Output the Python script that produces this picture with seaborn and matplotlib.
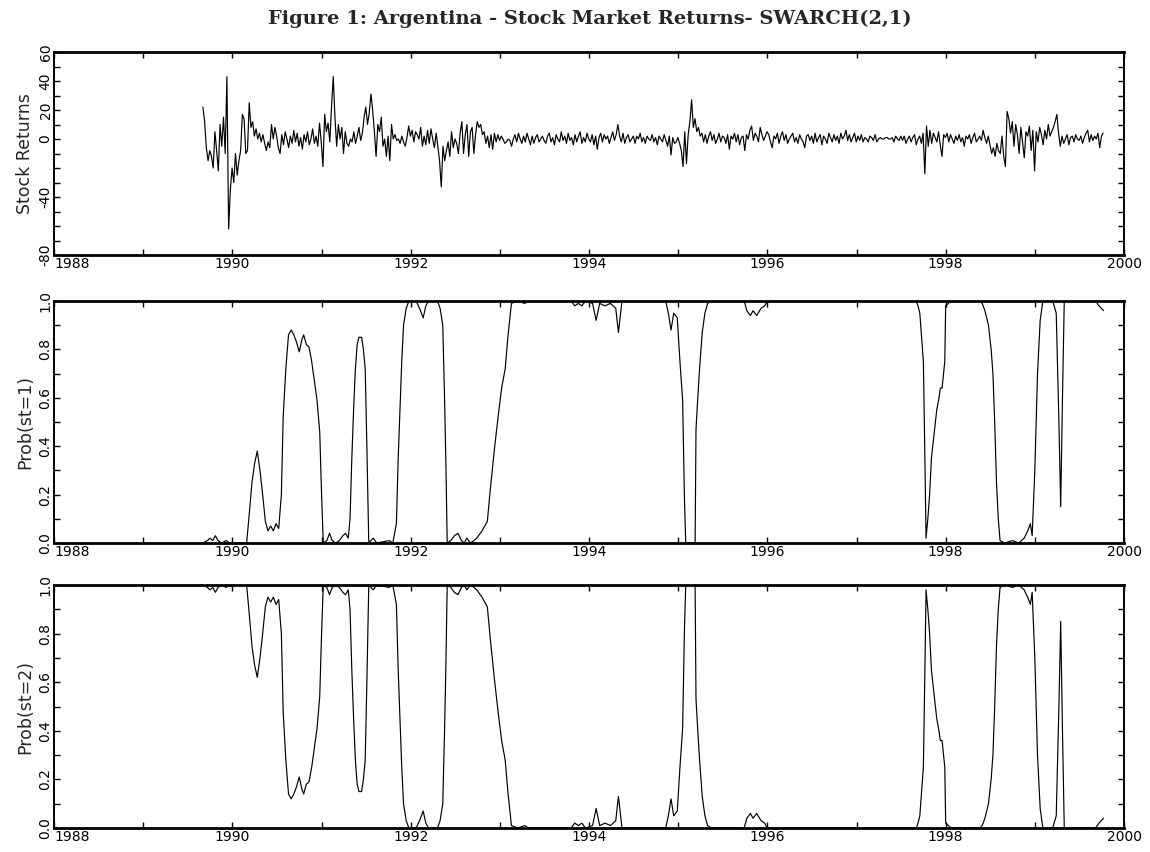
import numpy as np
import pandas as pd
import matplotlib
matplotlib.use("Agg")
import matplotlib.pyplot as plt
import seaborn as sns
from matplotlib.ticker import FixedLocator, MultipleLocator

sns.set_theme(style="ticks")
plt.rcParams['font.family'] = ['DejaVu Sans']

# ---------------- data ----------------
title = "Figure 1: Argentina - Stock Market Returns- SWARCH(2,1)"
ret_start = 1989.67          # first weekly observation (decimal year)
ret_1989 = [22, 12, -6, -15, -8, -12, -20, 5, -8, -22, 10, -5, 15, -10, 43, -62, -35, -20]
ret_1990 = [-30, -10, -25, -15, -8, 17, 14, -10, -8, 25, 8, 12, 2, 7, 0, 4, -2, 3, -3, -8, -2, -6, 10, 0, 8, 2,
            -6, -10, 3, -4, 5, 0, -6, 2, -3, 6, -2, 4, -5, 1, -7, 3, -2, 5, -4, 0, 7, -3, 2, -5, 11, -2]
ret_1991 = [-19, 17, 5, 11, -2, 22, 43, 15, -5, 10, 0, 8, -10, 5, -3, -5, 0, -2, 5, -3, 2, 8, -1, 4, 15, 22,
            10, 18, 31, 20, 5, -12, 10, 5, 15, -5, 0, -12, 2, -15, 10, 0, 3, -1, 0, -3, 2, -2, -5, 1, 9, 2]
ret_1992 = [6, -2, 5, 3, 0, 8, -5, 2, -4, 6, -3, 7, 0, -6, 4, -5, -15, -33, -5, -15, -8, -2, -12, 5, -6, 0,
            -3, -10, 4, 12, -10, 3, 10, -12, 5, 8, -10, 3, 12, 8, 10, 3, 5, -3, 2, -6, 3, -7, 4, -2, 3, -1]
ret_1993 = [2, 0, -3, -2, 0, -1, -5, 0, 3, -2, 4, 0, -3, 2, -2, 4, 0, -4, 2, -3, 1, 3, -2, 0, 2, -1,
            -3, 2, 4, -2, 1, -4, 3, 0, -2, 5, -1, 2, -3, 4, -1, 1, -4, 3, -2, 2, 5, -3, 1, -2, 4, 0]
ret_1994 = [-2, 3, -4, 2, -7, 1, 4, -2, 3, 0, 2, -3, 1, 5, -1, 3, 10, 2, -2, 4, -3, 1, 3, -2, 0, 2,
            -3, 2, 0, 4, -2, 1, -3, 2, 0, -1, 3, -2, 1, -4, 2, 0, -2, 3, -1, -5, 2, -11, 1, -3, -2, 1]
ret_1995 = [-3, -8, -19, 5, -17, 3, 12, 27, 8, 14, 5, 8, 2, 4, -2, 3, -3, 2, 5, -1, 3, -3, 0, 4, -2, 2,
            1, -3, 3, -7, 2, 0, 4, -2, 3, -4, 1, 2, -8, 3, 0, 6, 9, -1, 4, 2, -2, 8, 3, -1, 2, 5]
ret_1996 = [3, -2, -6, 2, 0, 4, -3, 2, 5, -1, 3, -3, 0, 2, 4, -2, 1, -3, 3, 0, -2, -6, 2, 3, -1, 2,
            -3, 4, -2, 1, 3, -4, 2, 0, -3, 4, 1, -2, 3, -1, 2, -3, 4, 0, 2, 6, -1, 3, -2, 1, 4, -2]
ret_1997 = [2, -1, 3, -2, 1, 0, -2, 2, 1, -1, 3, -2, 0, 1, 0, 0, 1, 1, 0, 0, 1, -2, 2, 0, -1, 2,
            -1, 2, -3, 0, 2, -2, 1, 3, -4, 0, 2, -3, 4, -24, 9, -5, 6, -3, 4, 1, -2, 5, -4, -12, 3, 1]
ret_1998 = [4, -2, 3, 0, -3, 2, -1, 3, -2, 1, -5, 2, 0, 3, -3, 1, 4, -2, 0, 2, -1, 6, 1, -3, 2, -4,
            -10, -6, -12, -3, -8, -10, 2, -12, -19, 19, 14, 4, 12, -5, 10, 3, -10, 8, -2, -13, 5, 2, 9, -8, 6, -22]
ret_1999 = [5, -2, 8, 3, -4, 6, 0, 10, 2, 5, 8, 12, 17, 4, -5, 2, -3, 0, 3, -4, 1, 2, -2, 3, 0, -1,
            2, -3, 1, 4, 6, -2, 3, -1, 2, 0, 4, -6, 2, 4]

prob_years = [1989.67, 1989.72, 1989.75, 1989.78, 1989.81, 1989.84, 1989.88, 1989.93, 1989.97, 1990.16,
              1990.19, 1990.22, 1990.25, 1990.28, 1990.31, 1990.34, 1990.37, 1990.40, 1990.43, 1990.46,
              1990.49, 1990.52, 1990.55, 1990.57, 1990.60, 1990.63, 1990.66, 1990.69, 1990.72, 1990.75,
              1990.78, 1990.80, 1990.83, 1990.86, 1990.89, 1990.92, 1990.95, 1990.98, 1991.00, 1991.02,
              1991.06, 1991.09, 1991.12, 1991.16, 1991.20, 1991.24, 1991.27, 1991.30, 1991.32, 1991.34,
              1991.36, 1991.38, 1991.40, 1991.42, 1991.45, 1991.47, 1991.49, 1991.51, 1991.53, 1991.58,
              1991.62, 1991.76, 1991.80, 1991.84, 1991.86, 1991.88, 1991.90, 1991.92, 1991.95, 1991.98,
              1992.06, 1992.10, 1992.14, 1992.17, 1992.20, 1992.30, 1992.33, 1992.36, 1992.38, 1992.395,
              1992.41, 1992.45, 1992.49, 1992.53, 1992.57, 1992.60, 1992.63, 1992.67, 1992.71, 1992.74,
              1992.80, 1992.86, 1992.89, 1992.94, 1992.98, 1993.02, 1993.06, 1993.09, 1993.13, 1993.20,
              1993.28, 1993.32, 1993.80, 1993.84, 1993.88, 1993.92, 1993.96, 1994.04, 1994.08, 1994.12,
              1994.18, 1994.24, 1994.30, 1994.33, 1994.37, 1994.86, 1994.89, 1994.92, 1994.95, 1994.99,
              1995.02, 1995.05, 1995.07, 1995.085, 1995.19, 1995.20, 1995.22, 1995.24, 1995.27, 1995.30,
              1995.33, 1995.37, 1995.74, 1995.77, 1995.81, 1995.84, 1995.88, 1995.93, 1995.97, 1996.00,
              1997.67, 1997.69, 1997.71, 1997.73, 1997.75, 1997.765, 1997.78, 1997.80, 1997.82, 1997.84,
              1997.87, 1997.90, 1997.925, 1997.94, 1997.96, 1997.99, 1998.00, 1998.03, 1998.06, 1998.38,
              1998.41, 1998.44, 1998.48, 1998.51, 1998.53, 1998.55, 1998.57, 1998.59, 1998.61, 1998.66,
              1998.75, 1998.82, 1998.88, 1998.92, 1998.95, 1998.97, 1999.00, 1999.03, 1999.06, 1999.09,
              1999.20, 1999.24, 1999.27, 1999.29, 1999.31, 1999.33, 1999.68, 1999.72, 1999.77]

prob_state1 = [0.00, 0.01, 0.02, 0.01, 0.03, 0.01, 0.00, 0.01, 0.00, 0.00,
               0.12, 0.25, 0.33, 0.38, 0.30, 0.20, 0.09, 0.05, 0.07, 0.05,
               0.08, 0.06, 0.20, 0.52, 0.72, 0.86, 0.88, 0.86, 0.83, 0.79,
               0.84, 0.86, 0.82, 0.81, 0.75, 0.67, 0.59, 0.46, 0.21, 0.00,
               0.01, 0.04, 0.01, 0.00, 0.01, 0.03, 0.04, 0.02, 0.10, 0.35,
               0.55, 0.72, 0.82, 0.85, 0.85, 0.80, 0.72, 0.38, 0.00, 0.02,
               0.00, 0.01, 0.00, 0.08, 0.35, 0.55, 0.75, 0.90, 0.97, 1.00,
               1.00, 0.97, 0.93, 0.98, 1.00, 1.00, 0.97, 0.90, 0.60, 0.33,
               0.00, 0.01, 0.03, 0.04, 0.01, 0.00, 0.02, 0.00, 0.01, 0.02,
               0.05, 0.09, 0.21, 0.39, 0.52, 0.64, 0.72, 0.85, 0.99, 1.00,
               0.99, 1.00, 1.00, 0.98, 0.99, 0.98, 1.00, 0.99, 0.92, 0.99,
               0.98, 0.99, 0.97, 0.87, 1.00, 1.00, 0.95, 0.88, 0.95, 0.93,
               0.75, 0.59, 0.19, 0.00, 0.00, 0.47, 0.60, 0.72, 0.87, 0.95,
               0.99, 1.00, 1.00, 0.96, 0.94, 0.96, 0.94, 0.97, 0.98, 1.00,
               1.00, 0.98, 0.95, 0.85, 0.75, 0.40, 0.02, 0.10, 0.20, 0.35,
               0.45, 0.55, 0.60, 0.64, 0.64, 0.75, 0.98, 0.99, 1.00, 1.00,
               0.99, 0.96, 0.90, 0.80, 0.70, 0.50, 0.25, 0.10, 0.01, 0.00,
               0.01, 0.00, 0.02, 0.05, 0.08, 0.03, 0.30, 0.70, 0.92, 1.00,
               1.00, 0.95, 0.50, 0.15, 0.60, 1.00, 1.00, 0.98, 0.96]

prob_state2 = [1.00, 0.99, 0.98, 0.99, 0.97, 0.99, 1.00, 0.99, 1.00, 1.00,
               0.88, 0.75, 0.67, 0.62, 0.70, 0.80, 0.91, 0.95, 0.93, 0.95,
               0.92, 0.94, 0.80, 0.48, 0.28, 0.14, 0.12, 0.14, 0.17, 0.21,
               0.16, 0.14, 0.18, 0.19, 0.25, 0.33, 0.41, 0.54, 0.79, 1.00,
               0.99, 0.96, 0.99, 1.00, 0.99, 0.97, 0.96, 0.98, 0.90, 0.65,
               0.45, 0.28, 0.18, 0.15, 0.15, 0.20, 0.28, 0.62, 1.00, 0.98,
               1.00, 0.99, 1.00, 0.92, 0.65, 0.45, 0.25, 0.10, 0.03, 0.00,
               0.00, 0.03, 0.07, 0.02, 0.00, 0.00, 0.03, 0.10, 0.40, 0.67,
               1.00, 0.99, 0.97, 0.96, 0.99, 1.00, 0.98, 1.00, 0.99, 0.98,
               0.95, 0.91, 0.79, 0.61, 0.48, 0.36, 0.28, 0.15, 0.01, 0.00,
               0.01, 0.00, 0.00, 0.02, 0.01, 0.02, 0.00, 0.01, 0.08, 0.01,
               0.02, 0.01, 0.03, 0.13, 0.00, 0.00, 0.05, 0.12, 0.05, 0.07,
               0.25, 0.41, 0.81, 1.00, 1.00, 0.53, 0.40, 0.28, 0.13, 0.05,
               0.01, 0.00, 0.00, 0.04, 0.06, 0.04, 0.06, 0.03, 0.02, 0.00,
               0.00, 0.02, 0.05, 0.15, 0.25, 0.60, 0.98, 0.90, 0.80, 0.65,
               0.55, 0.45, 0.40, 0.36, 0.36, 0.25, 0.02, 0.01, 0.00, 0.00,
               0.01, 0.04, 0.10, 0.20, 0.30, 0.50, 0.75, 0.90, 0.99, 1.00,
               0.99, 1.00, 0.98, 0.95, 0.92, 0.97, 0.70, 0.30, 0.08, 0.00,
               0.00, 0.05, 0.50, 0.85, 0.40, 0.00, 0.00, 0.02, 0.04]

# ---------------- assemble ----------------
returns = (ret_1989 + ret_1990 + ret_1991 + ret_1992 + ret_1993 + ret_1994 +
           ret_1995 + ret_1996 + ret_1997 + ret_1998 + ret_1999)
ret_df = pd.DataFrame({"year": ret_start + np.arange(len(returns)) / 52.0,
                       "ret": returns})
prob_df = pd.DataFrame({"year": prob_years, "p1": prob_state1, "p2": prob_state2})

# ---------------- figure ----------------
W, H = 1150, 852
fig = plt.figure(figsize=(W / 100, H / 100), dpi=100)
fig.patch.set_facecolor("white")

def frac_axes(x0, y0, x1, y1):
    return fig.add_axes([x0 / W, 1 - y1 / H, (x1 - x0) / W, (y1 - y0) / H])

ax1 = frac_axes(54, 52, 1124, 255)
ax2 = frac_axes(54, 301, 1124, 543)
ax3 = frac_axes(54, 585, 1124, 828)

line_kw = dict(color="black", linewidth=0.85, estimator=None, sort=False, legend=False)
sns.lineplot(data=ret_df, x="year", y="ret", ax=ax1, **line_kw)
sns.lineplot(data=prob_df, x="year", y="p1", ax=ax2, **line_kw)
sns.lineplot(data=prob_df, x="year", y="p2", ax=ax3, **line_kw)

xmaj = [1988, 1990, 1992, 1994, 1996, 1998, 2000]
for ax in (ax1, ax2, ax3):
    ax.set_facecolor("white")
    ax.set_xlim(1988, 2000)
    ax.xaxis.set_major_locator(FixedLocator(xmaj))
    ax.xaxis.set_minor_locator(MultipleLocator(1))
    ax.set_xticklabels([str(v) for v in xmaj])
    ax.tick_params(which="both", direction="in", length=4, width=1.0,
                   top=True, right=True, bottom=True, left=True, colors="black",
                   labelsize=10)
    ax.tick_params(axis="x", pad=1.5)
    ax.tick_params(axis="y", pad=1.0)
    for side in ("top", "bottom"):
        ax.spines[side].set_linewidth(2.0)
    for side in ("left", "right"):
        ax.spines[side].set_linewidth(1.4)
    for sp in ax.spines.values():
        sp.set_color("black")
        sp.set_visible(True)
    ax.set_xlabel("")
    labs = ax.get_xticklabels()
    labs[0].set_horizontalalignment("left")

# top panel y axis
ax1.set_ylim(-80, 60)
ax1.yaxis.set_major_locator(FixedLocator([-80, -60, -40, -20, 0, 20, 40, 60]))
ax1.yaxis.set_minor_locator(MultipleLocator(10))
ax1.set_yticklabels(["-80", "", "-40", "", "0", "20", "40", "60"])

for ax in (ax2, ax3):
    ax.set_ylim(0, 1)
    ax.yaxis.set_major_locator(FixedLocator([0, 0.2, 0.4, 0.6, 0.8, 1.0]))
    ax.yaxis.set_minor_locator(MultipleLocator(0.1))
    ax.set_yticklabels(["0.0", "0.2", "0.4", "0.6", "0.8", "1.0"])

for ax, lab in ((ax1, "Stock Returns"), (ax2, "Prob(st=1)"), (ax3, "Prob(st=2)")):
    for t in ax.get_yticklabels():
        t.set_rotation(90)
        t.set_verticalalignment("center")
    ax.set_ylabel(lab, fontsize=12.5, va="center")
    ax.yaxis.set_label_coords(-29 / 1070, 0.5)

fig.text(590 / W, 1 - 19 / H, title, ha="center", va="center",
         fontsize=14, fontweight="bold", family="DejaVu Serif")

fig.savefig("out.png", dpi=100, facecolor="white")
